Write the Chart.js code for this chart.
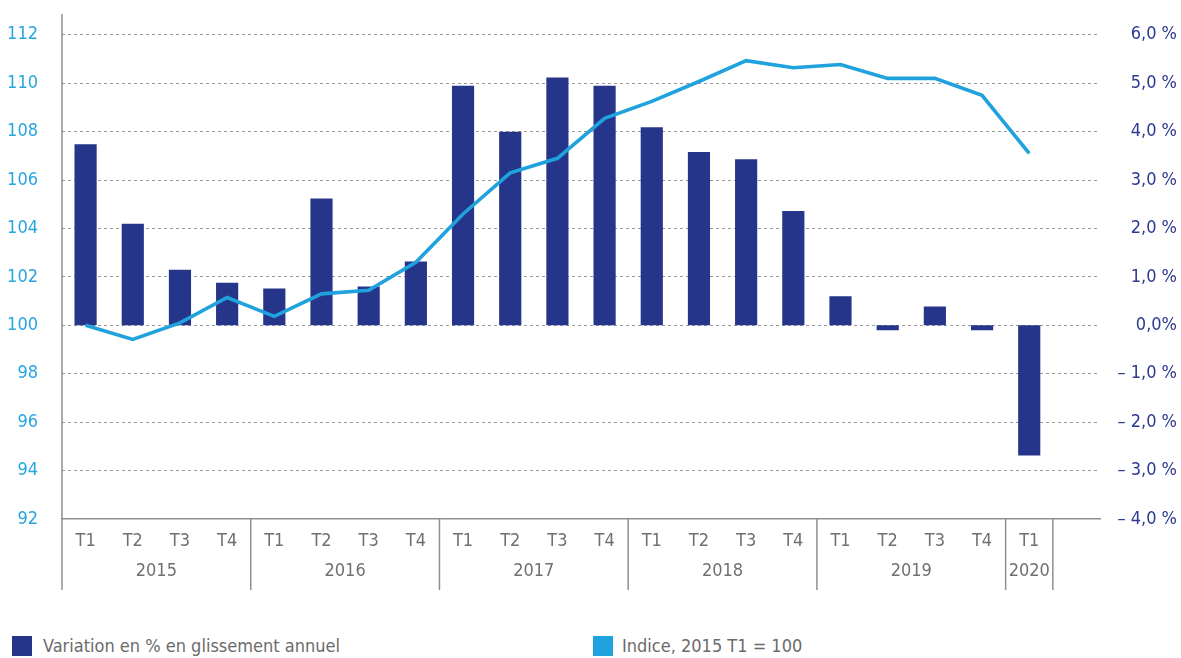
<!DOCTYPE html>
<html>
<head>
<meta charset="utf-8">
<script src="https://cdn.jsdelivr.net/npm/chart.js@4.4.1/dist/chart.umd.min.js"></script>
<style>
  body { margin: 0; background: #fff; }
  #wrap { position: relative; width: 1181px; height: 600px; }
  .legend { position: absolute; top: 632px; left: 0; width: 1181px; height: 26px;
            font-family: 'Liberation Sans Narrow', 'DejaVu Sans Condensed', sans-serif;
            font-size: 18px; color: #6b6b6b; }
  .legend .item { position: absolute; top: 0; white-space: nowrap; }
  .legend .box { position: absolute; top: 4px; left: 0; width: 20px; height: 20px; }
  .legend .txt { position: absolute; top: 3px; white-space: nowrap; }
  #probe { font-family: 'Liberation Sans Narrow'; position: absolute; left: -999px; }
</style>
</head>
<body>
<div id="wrap"><canvas id="chart"></canvas></div>
<div class="legend" id="legend"></div>
<span id="probe">T1 2015 0,0 %</span>
<script>
// --- Data ---
const quarters = ['T1','T2','T3','T4', 'T1','T2','T3','T4', 'T1','T2','T3','T4',
                  'T1','T2','T3','T4', 'T1','T2','T3','T4', 'T1', ''];
const years = ['2015', '2016', '2017', '2018', '2019', '2020'];
const quartersPerYear = [4, 4, 4, 4, 4, 1];

// Variation en % en glissement annuel (right axis)
const variation = [3.74, 2.10, 1.15, 0.88, 0.76, 2.62, 0.80, 1.32,
                   4.95, 4.00, 5.12, 4.95, 4.09, 3.58, 3.43, 2.36,
                   0.60, -0.10, 0.39, -0.10, -2.69];
// Indice, 2015 T1 = 100 (left axis)
const indice = [100.0, 99.42, 100.1, 101.15, 100.37, 101.3, 101.45, 102.6,
                104.6, 106.3, 106.9, 108.55, 109.25, 110.07, 110.93, 110.64,
                110.77, 110.2, 110.2, 109.5, 107.1];

const leftTicks = { min: 92, max: 112, step: 2 };
const rightTicks = { min: -4, max: 6, step: 1 };

const seriesLabels = ['Variation en % en glissement annuel', 'Indice, 2015 T1 = 100'];
const colors = { bar: '#25358a', line: '#1fa2dd', leftTick: '#27a5df', rightTick: '#2b3990', gray: '#707070', axis: '#8f8f8f' };
const FONT = "'Liberation Sans Narrow', 'DejaVu Sans Condensed', sans-serif";
const FS = 18;

function fmtPct(v) {
    if (v === 0) return '0,0%';
    const s = Math.abs(v).toFixed(1).replace('.', ',') + ' %';
    return v < 0 ? '\u2013 ' + s : s;
}

// Draws the left axis line, year labels and group separators under the x axis
const groupAxis = {
    id: 'groupAxis',
    afterDraw(chart) {
        const { ctx, chartArea, scales } = chart;
        const x = scales.x;
        const step = x.getPixelForValue(1) - x.getPixelForValue(0);
        const top = chartArea.bottom, bottom = 590;
        ctx.save();
        ctx.strokeStyle = colors.axis;
        ctx.lineWidth = 1.5;
        // left vertical axis
        ctx.beginPath();
        ctx.moveTo(chartArea.left, 14);
        ctx.lineTo(chartArea.left, bottom);
        ctx.stroke();

        ctx.fillStyle = colors.gray;
        ctx.font = FS + 'px ' + FONT;
        ctx.textAlign = 'center';
        ctx.textBaseline = 'middle';
        let idx = 0;
        years.forEach((yr, g) => {
            const n = quartersPerYear[g];
            const first = x.getPixelForValue(idx);
            const last = x.getPixelForValue(idx + n - 1);
            const right = last + step / 2;
            ctx.beginPath();
            ctx.moveTo(right, top);
            ctx.lineTo(right, bottom);
            ctx.stroke();
            ctx.fillText(yr, (first + last) / 2, 571);
            idx += n;
        });
        ctx.restore();
    }
};

function drawChart() {
    const ctx = document.getElementById('chart').getContext('2d');
    new Chart(ctx, {
        data: {
            labels: quarters,
            datasets: [
                {
                    type: 'line',
                    label: seriesLabels[1],
                    data: indice,
                    yAxisID: 'yL',
                    borderColor: colors.line,
                    borderWidth: 3.6,
                    pointRadius: 0,
                    tension: 0,
                    order: 0
                },
                {
                    type: 'bar',
                    label: seriesLabels[0],
                    data: variation,
                    yAxisID: 'yR',
                    backgroundColor: colors.bar,
                    categoryPercentage: 1,
                    barPercentage: 0.47,
                    order: 1
                }
            ]
        },
        options: {
            responsive: true,
            maintainAspectRatio: false,
            animation: false,
            layout: { padding: { top: 33, right: 4, left: 0, bottom: 0 } },
            plugins: { legend: { display: false }, tooltip: { enabled: false } },
            scales: {
                x: {
                    grid: { display: false, drawTicks: false },
                    border: { display: true, color: colors.axis, width: 1.5 },
                    ticks: { color: colors.gray, font: { family: FONT, size: FS }, padding: 12, autoSkip: false, maxRotation: 0 },
                    afterFit(s) { s.height = 81; }
                },
                yL: {
                    position: 'left',
                    min: leftTicks.min, max: leftTicks.max,
                    ticks: { stepSize: leftTicks.step, color: colors.leftTick, font: { family: FONT, size: FS }, padding: 24 },
                    grid: {
                        drawTicks: false, tickLength: 0,
                        color: c => c.tick.value === leftTicks.min ? 'rgba(0,0,0,0)' : '#9a9a9a',
                        lineWidth: 1
                    },
                    border: { display: false, dash: [3, 3] },
                    afterFit(s) { s.width = 62; }
                },
                yR: {
                    position: 'right',
                    min: rightTicks.min, max: rightTicks.max,
                    ticks: { stepSize: rightTicks.step, color: colors.rightTick, font: { family: FONT, size: FS },
                             crossAlign: 'far', callback: v => fmtPct(v) },
                    grid: { display: false, drawTicks: false, tickLength: 0 },
                    border: { display: false },
                    afterFit(s) { s.width = 77; }
                }
            }
        },
        plugins: [groupAxis]
    });
}

// HTML legend built from the series labels
const legendPos = [{ box: 12, txt: 43 }, { box: 593, txt: 622 }];
const legendColors = [colors.bar, colors.line];
const legendEl = document.getElementById('legend');
seriesLabels.forEach((lab, i) => {
    const item = document.createElement('div');
    item.className = 'item';
    item.style.left = legendPos[i].box + 'px';
    item.innerHTML = '<span class="box" style="background:' + legendColors[i] + '"></span>' +
        '<span class="txt" style="left:' + (legendPos[i].txt - legendPos[i].box) + 'px">' + lab + '</span>';
    legendEl.appendChild(item);
});

// wait for the narrow font before the canvas text is drawn
document.fonts.load(FS + 'px "Liberation Sans Narrow"').then(drawChart, drawChart);
</script>
</body>
</html>
